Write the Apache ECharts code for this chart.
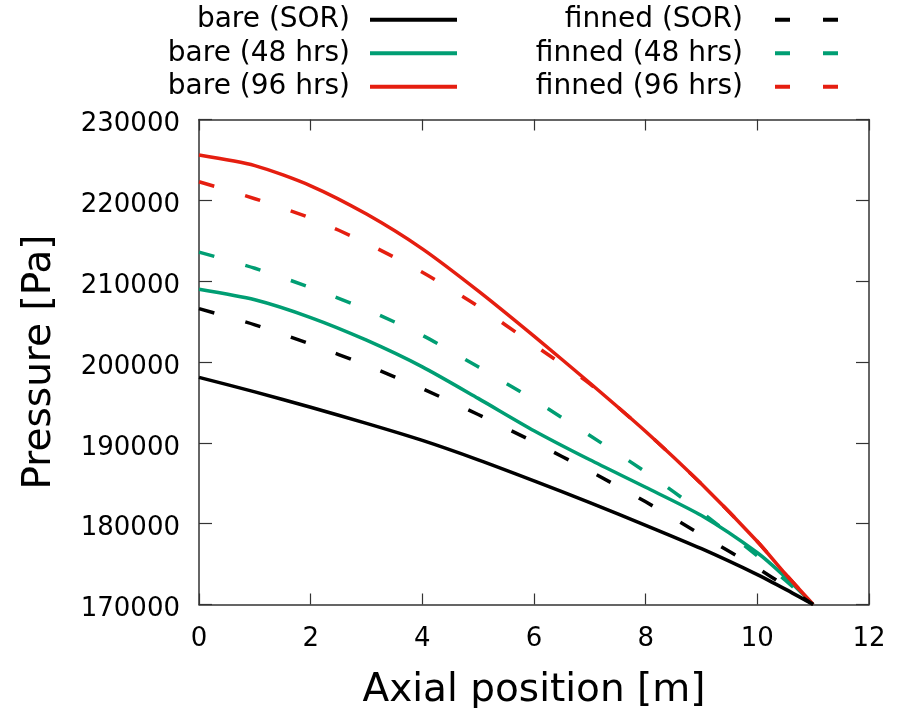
<!DOCTYPE html>
<html>
<head>
<meta charset="utf-8">
<script src="https://cdn.jsdelivr.net/npm/echarts@6/dist/echarts.min.js"></script>
<style>
html,body{margin:0;padding:0;background:#fff;}
#chart{width:901px;height:708px;}
</style>
</head>
<body>
<div id="chart"></div>
<script>
const positions = [0, 1, 2, 3, 4, 5, 6, 7, 8, 9, 10, 10.5, 11];
const bareSOR    = [198100, 196300, 194400, 192400, 190300, 187900, 185300, 182600, 179800, 176900, 173700, 171900, 170000];
const bare48     = [209000, 207700, 205500, 202700, 199400, 195500, 191500, 187900, 184500, 181000, 176400, 173400, 170000];
const bare96     = [225600, 224300, 221800, 218300, 214000, 208800, 203200, 197400, 191400, 184900, 177800, 173800, 170000];
const finnedSOR  = [206600, 204600, 202200, 199600, 196700, 193500, 190100, 186500, 182700, 178600, 174500, 172300, 170000];
const finned48   = [213600, 211600, 209200, 206500, 203300, 199400, 195300, 190900, 186400, 181400, 176000, 173000, 170000];
const finned96   = [222300, 220200, 217800, 214700, 211100, 206900, 202100, 197300, 191400, 184900, 177800, 173800, 170000];
const xTicks = {min: 0, max: 12, step: 2};
const yTicks = {min: 170000, max: 230000, step: 10000};
const names = ['bare (SOR)', 'bare (48 hrs)', 'bare (96 hrs)', 'finned (SOR)', 'finned (48 hrs)', 'finned (96 hrs)'];

const colors = ['#000000', '#009e73', '#e51e10'];
const FONT = 'DejaVu Sans';
const dashIcon = 'path://M0,0h15v4h-15z M48,0h15v4h-15z';
function pairs(vals){ return positions.map((x,i)=>[x, vals[i]]); }
function mk(name, vals, color, dashed){
  return {
    name, type:'line', data: pairs(vals), symbol:'none', smooth: 0.25,
    xAxisIndex:0, yAxisIndex:0,
    lineStyle:{color, width:3.5, type: dashed ? [16, 32] : 'solid', cap:'butt'},
    itemStyle:{color}, emphasis:{disabled:true}, z: dashed ? 3 : 2
  };
}
const series = [
  mk(names[0], bareSOR, colors[0], false),
  mk(names[1], bare48, colors[1], false),
  mk(names[2], bare96, colors[2], false),
  mk(names[3], finnedSOR, colors[0], true),
  mk(names[4], finned48, colors[1], true),
  mk(names[5], finned96, colors[2], true)
];
const axisLine = {show:true, onZero:false, lineStyle:{color:'#333', width:1.5}};
const tickIn = {show:true, inside:true, length:11, lineStyle:{color:'#333', width:1.2}};
const chart = echarts.init(document.getElementById('chart'), null, {renderer:'canvas'});
chart.setOption({
  animation:false,
  backgroundColor:'#fff',
  textStyle:{fontFamily:FONT},
  grid:{left:199, right:32, top:119.5, bottom:103.5, containLabel:false, outerBoundsMode:'none'},
  legend:[
    {data:names.slice(0,3), orient:'vertical', align:'right', right:439, top:-2,
     itemWidth:87, itemHeight:4, itemGap:0, icon:'rect',
     textStyle:{fontFamily:FONT, fontSize:28, color:'#000', lineHeight:33.5, padding:[0,15,0,0]}},
    {data:names.slice(3,6), orient:'vertical', align:'right', right:58, top:-2,
     itemWidth:63, itemHeight:4, itemGap:0, icon:dashIcon,
     textStyle:{fontFamily:FONT, fontSize:28, color:'#000', lineHeight:33.5, padding:[0,27,0,0]}}
  ],
  xAxis:[
    {type:'value', position:'bottom', min:xTicks.min, max:xTicks.max, interval:xTicks.step,
     name:'Axial position [m]', nameLocation:'middle', nameGap:67,
     nameTextStyle:{fontFamily:FONT, fontSize:39, color:'#000'},
     axisLine, axisTick:tickIn, splitLine:{show:false},
     axisLabel:{fontFamily:FONT, fontSize:26, color:'#000', margin:22}},
    {type:'value', position:'top', min:xTicks.min, max:xTicks.max, interval:xTicks.step,
     axisLine, axisTick:tickIn, splitLine:{show:false}, axisLabel:{show:false}}
  ],
  yAxis:[
    {type:'value', position:'left', min:yTicks.min, max:yTicks.max, interval:yTicks.step,
     name:'Pressure [Pa]', nameLocation:'middle', nameGap:140,
     nameTextStyle:{fontFamily:FONT, fontSize:39, color:'#000'},
     axisLine, axisTick:{...tickIn, length:13}, splitLine:{show:false},
     axisLabel:{fontFamily:FONT, fontSize:26, color:'#000', margin:19, verticalAlign:'top', lineHeight:10, formatter:(v)=>String(v)}},
    {type:'value', position:'right', min:yTicks.min, max:yTicks.max, interval:yTicks.step,
     axisLine, axisTick:{...tickIn, length:13}, splitLine:{show:false}, axisLabel:{show:false}}
  ],
  series
});
</script>
</body>
</html>
